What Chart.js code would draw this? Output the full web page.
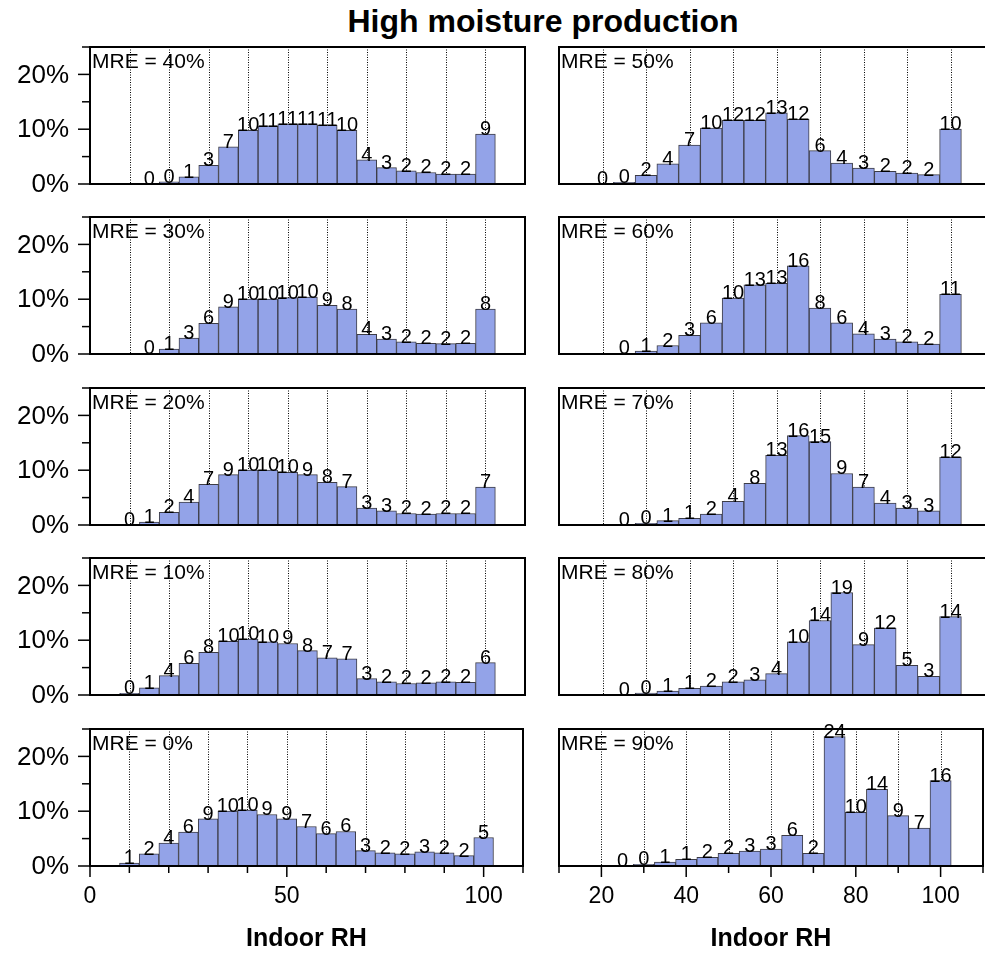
<!DOCTYPE html>
<html>
<head>
<meta charset="utf-8">
<script src="https://cdn.jsdelivr.net/npm/chart.js@4"></script>
<style>
  html, body { margin: 0; padding: 0; background: #fff; overflow: hidden; }
  #fig { position: relative; width: 985px; height: 954px; overflow: hidden; }
  #fig canvas { position: absolute; }
  #title {
    position: absolute; left: 293px; top: 3px; width: 500px; text-align: center;
    font: bold 32px "Liberation Sans", Arial, sans-serif; color: #000;
  }
</style>
</head>
<body>
<div id="fig"><div id="title">High moisture production</div></div>
<script>
// bin centres (Indoor RH, %)
const rh10 = [10, 15, 20, 25, 30, 35, 40, 45, 50, 55, 60, 65, 70, 75, 80, 85, 90, 95, 100];
const rh15 = rh10.slice(1);
const rh20 = rh10.slice(2);
const rh25 = rh10.slice(3);

// share of hours per bin (%), one list per MRE
const mre0 = [0.55, 2.2, 4.2, 6.2, 8.6, 10.0, 10.2, 9.4, 8.6, 7.2, 5.9, 6.3, 2.8, 2.4, 2.2, 2.6, 2.4, 1.9, 5.2];
const mre10 = [0.3, 1.3, 3.55, 5.8, 7.8, 9.8, 10.2, 9.7, 9.4, 8.1, 6.8, 6.6, 3.0, 2.4, 2.1, 2.2, 2.4, 2.3, 5.9];
const mre20 = [0.05, 0.55, 2.3, 4.2, 7.4, 9.2, 10.0, 10.0, 9.6, 9.2, 7.8, 7.0, 3.1, 2.6, 2.1, 2.0, 2.1, 2.1, 6.9];
const mre30 = [0.1, 0.9, 2.9, 5.6, 8.6, 10.0, 10.0, 10.3, 10.4, 8.9, 8.2, 3.6, 2.7, 2.2, 1.95, 1.9, 1.95, 8.2];
const mre40 = [0.05, 0.4, 1.3, 3.4, 6.8, 9.8, 10.6, 11.0, 11.0, 10.7, 9.8, 4.4, 3.0, 2.4, 2.1, 1.8, 1.8, 9.1];
const mre50 = [0.05, 0.3, 1.6, 3.7, 7.1, 10.2, 11.6, 11.6, 13.0, 11.8, 6.1, 3.8, 2.9, 2.3, 2.0, 1.7, 10.0];
const mre60 = [0.1, 0.55, 1.55, 3.4, 5.7, 10.2, 12.6, 12.9, 16.1, 8.4, 5.7, 3.7, 2.7, 2.2, 1.8, 10.9];
const mre70 = [0.05, 0.3, 0.8, 1.2, 2.0, 4.3, 7.6, 12.7, 16.3, 15.2, 9.4, 6.9, 4.0, 3.1, 2.6, 12.4];
const mre80 = [0.05, 0.35, 0.7, 1.2, 1.65, 2.4, 2.75, 3.9, 9.7, 13.6, 18.7, 9.2, 12.2, 5.4, 3.4, 14.3];
const mre90 = [0.05, 0.3, 0.7, 1.2, 1.6, 2.3, 2.7, 3.1, 5.6, 2.3, 23.6, 9.8, 14.0, 9.2, 6.9, 15.6];

// y tick labels (left column only)
const yTickValues = [0, 10, 20];

const panels = [
  { name: "MRE = 40%", rh: rh15, pct: mre40, col: 0, row: 0 },
  { name: "MRE = 30%", rh: rh15, pct: mre30, col: 0, row: 1 },
  { name: "MRE = 20%", rh: rh10, pct: mre20, col: 0, row: 2 },
  { name: "MRE = 10%", rh: rh10, pct: mre10, col: 0, row: 3 },
  { name: "MRE = 0%", rh: rh10, pct: mre0, col: 0, row: 4 },
  { name: "MRE = 50%", rh: rh20, pct: mre50, col: 1, row: 0 },
  { name: "MRE = 60%", rh: rh25, pct: mre60, col: 1, row: 1 },
  { name: "MRE = 70%", rh: rh25, pct: mre70, col: 1, row: 2 },
  { name: "MRE = 80%", rh: rh25, pct: mre80, col: 1, row: 3 },
  { name: "MRE = 90%", rh: rh25, pct: mre90, col: 1, row: 4 },
];

const FONT = '"Liberation Sans", Arial, sans-serif';
Chart.defaults.font.family = FONT;
Chart.defaults.color = "#000";

const plotTops = [47, 217, 388, 558, 729];
const plotH = 137;
const barFill = "#93a3e8";
const barEdge = "#3c3c46";

const histPlugin = {
  id: "hist",
  beforeDatasetsDraw(chart) {
    // dotted guide lines every 10 %RH
    const { ctx, chartArea: a, scales: { x } } = chart;
    ctx.save();
    ctx.strokeStyle = "#000";
    ctx.lineWidth = 1;
    ctx.setLineDash([1, 1.5]);
    for (let v = 10; v <= 100; v += 10) {
      if (v <= x.min) continue;
      const px = Math.round(x.getPixelForValue(v)) + 0.5;
      ctx.beginPath();
      ctx.moveTo(px, a.top);
      ctx.lineTo(px, a.bottom);
      ctx.stroke();
    }
    ctx.restore();
  },
  afterDatasetsDraw(chart, args, opts) {
    const { ctx, chartArea: a, scales: { x, y } } = chart;
    ctx.save();
    ctx.strokeStyle = "#000";
    ctx.lineWidth = 2;
    ctx.strokeRect(a.left, a.top, a.right - a.left, a.bottom - a.top);

    ctx.lineWidth = 1.5;
    ctx.fillStyle = "#000";
    if (opts.yTicks) {
      for (let v = 0; v <= 25; v += 5) {
        const len = v % 10 === 0 ? 12 : 8;
        const py = y.getPixelForValue(v);
        ctx.beginPath();
        ctx.moveTo(a.left - len, py);
        ctx.lineTo(a.left, py);
        ctx.stroke();
      }
      ctx.font = "26px " + FONT;
      ctx.textAlign = "right";
      ctx.textBaseline = "middle";
      yTickValues.forEach((v) => {
        ctx.fillText(v + "%", a.left - 21, y.getPixelForValue(v) + 1);
      });
    }
    if (opts.xMajor) {
      for (let v = x.min; v <= x.max; v += 10) {
        const len = v % opts.xMajor === 0 ? 11 : 7;
        const px = x.getPixelForValue(v);
        ctx.beginPath();
        ctx.moveTo(px, a.bottom);
        ctx.lineTo(px, a.bottom + len);
        ctx.stroke();
      }
    }

    // panel name
    ctx.font = "21px " + FONT;
    ctx.textAlign = "left";
    ctx.textBaseline = "alphabetic";
    ctx.fillText(opts.name, a.left + 2, a.top + 21);

    // value labels on top of each bar
    ctx.font = "20px " + FONT;
    ctx.textAlign = "center";
    const ds = chart.data.datasets[0];
    chart.getDatasetMeta(0).data.forEach((bar, i) => {
      ctx.fillText(String(Math.round(ds.data[i].y)), bar.x, bar.y + 1);
    });
    ctx.restore();
  },
};

const fig = document.getElementById("fig");

function makePanel(p) {
  const left = p.col === 0;
  const bottom = p.row === 4;
  const xMajor = left ? 50 : 20;
  const cv = document.createElement("canvas");
  cv.width = left ? 540 : 460;
  cv.height = 30 + plotH + (bottom ? 88 : 10);
  cv.style.left = (left ? 0 : 540) + "px";
  cv.style.top = plotTops[p.row] - 30 + "px";
  fig.appendChild(cv);

  new Chart(cv, {
    type: "bar",
    data: {
      datasets: [
        {
          data: p.rh.map((v, i) => ({ x: v, y: p.pct[i] })),
          backgroundColor: barFill,
          borderColor: barEdge,
          borderWidth: 1,
          borderSkipped: false,
          barPercentage: 1,
          categoryPercentage: 1,
        },
      ],
    },
    options: {
      responsive: false,
      animation: false,
      devicePixelRatio: 1,
      events: [],
      layout: {
        autoPadding: false,
        padding: { left: left ? 90 : 19, right: left ? 15 : 6, top: 30, bottom: bottom ? 0 : 10 },
      },
      plugins: {
        legend: { display: false },
        tooltip: { enabled: false },
        hist: { name: p.name, yTicks: left, xMajor: bottom ? xMajor : 0 },
      },
      scales: {
        x: {
          type: "linear",
          min: left ? 0 : 10,
          max: 110,
          offset: false,
          display: bottom,
          grid: { drawOnChartArea: false, drawTicks: false },
          border: { display: false },
          ticks: {
            stepSize: 10,
            autoSkip: false,
            maxRotation: 0,
            padding: 17,
            font: { size: 23 },
            callback: (v) => (v % xMajor === 0 ? String(v) : ""),
          },
          title: { display: true, text: "Indoor RH", font: { size: 25, weight: "bold" }, padding: 0 },
          afterFit: (s) => { if (bottom) s.height = 88; },
        },
        y: {
          min: 0,
          max: 25,
          display: false,
        },
      },
    },
    plugins: [histPlugin],
  });
}

panels.forEach(makePanel);
</script>
</body>
</html>
